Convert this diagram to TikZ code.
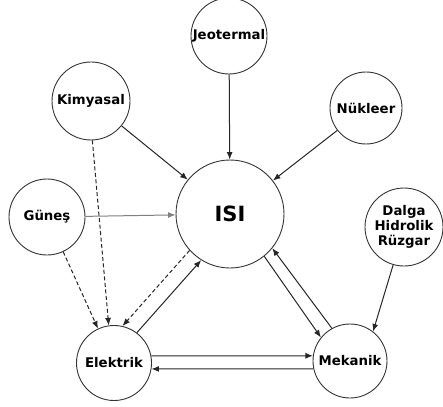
\documentclass[tikz,border=0pt]{standalone}
\usepackage{fontspec}
\setmainfont{DejaVu Sans}
\usetikzlibrary{arrows.meta,calc}

\begin{document}
\begin{tikzpicture}[x=1pt,y=-1pt,
  kutu/.style={circle,draw=black!80,line width=0.9pt,minimum size=76pt,inner sep=0pt,
    font=\bfseries\fontsize{13.3}{15}\selectfont,align=center},
  ok/.style={line width=1pt,black!85,-{Latex[length=7.5pt,width=6pt]}},
  kesik/.style={ok,dash pattern=on 4pt off 2.5pt}]
				\useasboundingbox (0,0) rectangle (443,406);
				
				\node[kutu] (jeo) at (229,36) {Jeotermal};
				\node[kutu,minimum size=78pt] (kim) at (91,101) {Kimyasal};
				\node[kutu,minimum size=72pt] (nuk) at (366,108) {Nükleer};
				\node[kutu,minimum size=108pt,font=\bfseries\fontsize{21}{22}\selectfont] (isi) at (230,214) {ISI};
				\node[kutu] (gun) at (47,217) {Güneş};
				\node[kutu,minimum size=78pt,font=\bfseries\fontsize{13.3}{15}\selectfont] (dal) at (404,227) {Dalga\\Hidrolik\\Rüzgar};
				\node[kutu,minimum size=75pt] (ele) at (114,363) {Elektrik};
				\node[kutu,minimum size=74pt] (mek) at (350,361) {Mekanik};
				
				% kaynaklardan isiya
				\draw[ok] (jeo) -- (isi);
				\draw[ok] (kim) -- (isi);
				\draw[ok] (nuk) -- (isi);
				\draw[ok,gray] (gun) -- (isi);
				\draw[ok] (dal.254) -- (mek.52);
				
				% elektrige giden kesikli oklar
				\draw[kesik] (kim.272) -- (ele.98);
				\draw[kesik] (gun.295) -- (ele.115);
				\draw[kesik] (isi.222) -- (ele.77);
				
				\draw[ok] (ele.53) -- (isi.238);
				\draw[ok] (isi.-51) -- (mek.141);
				\draw[ok] (mek.119) -- (isi.-39);
				\draw[ok] (ele.11) -- (mek.172);
				\draw[ok] (mek.192) -- (ele.351);
				
\end{tikzpicture}
\end{document}
